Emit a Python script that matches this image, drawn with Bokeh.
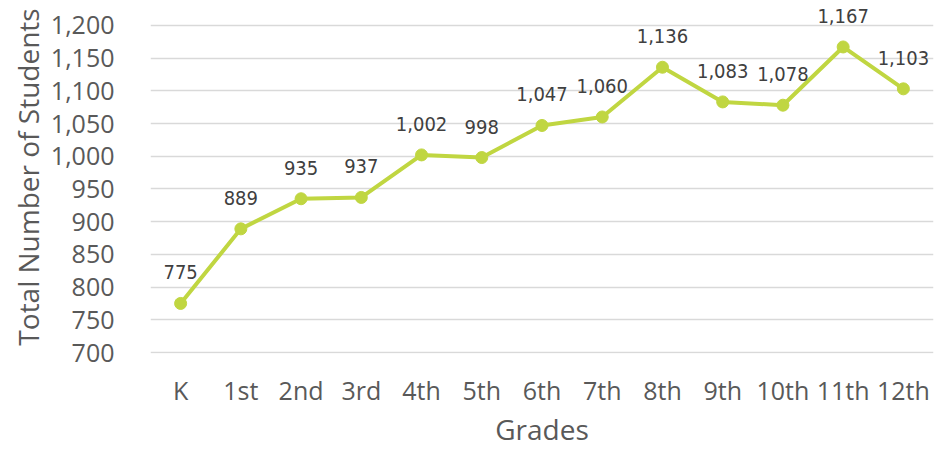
from bokeh.plotting import figure
from bokeh.models import FixedTicker, NumeralTickFormatter, Range1d, FactorRange, ColumnDataSource
from bokeh.core.properties import value
from bokeh.embed import file_html
from bokeh.resources import INLINE

grades = ["K", "1st", "2nd", "3rd", "4th", "5th", "6th", "7th", "8th", "9th", "10th", "11th", "12th"]
students = [775, 889, 935, 937, 1002, 998, 1047, 1060, 1136, 1083, 1078, 1167, 1103]
labels = [f"{v:,}" for v in students]
y_ticks = list(range(700, 1201, 50))
x_title = "Grades"
y_title = "Total Number of Students"

src = ColumnDataSource(dict(g=grades, v=students, t=labels))

GREEN = "#c0d641"
TXT = "#595959"

p = figure(x_range=FactorRange(*grades, range_padding=0), y_range=Range1d(698.5, 1238),
           width=945, height=450, output_backend="svg", toolbar_location=None,
           min_border_left=150, min_border_right=12, min_border_top=0, min_border_bottom=96)
p.outline_line_color = None
p.xgrid.grid_line_color = None
p.ygrid.grid_line_color = "#d9d9d9"
p.ygrid.grid_line_width = 1.5

p.line("g", "v", source=src, line_color=GREEN, line_width=4)
p.scatter("g", "v", source=src, size=12, fill_color=GREEN, line_color=GREEN)
p.text("g", "v", text="t", source=src, text_align="center", text_baseline="alphabetic",
       y_offset=-31, text_font=value("'Liberation Sans Narrow', 'DejaVu Sans Condensed', Roboto"),
       text_font_size="20px", text_color="#404040")

for ax in (p.xaxis[0], p.yaxis[0]):
    ax.axis_line_color = None
    ax.major_tick_line_color = None
    ax.minor_tick_line_color = None
    ax.major_label_text_font = "Open Sans"
    ax.major_label_text_font_size = "25px"
    ax.major_label_text_color = TXT
    ax.axis_label_text_font = "Open Sans"
    ax.axis_label_text_font_size = "28px"
    ax.axis_label_text_font_style = "normal"
    ax.axis_label_text_color = TXT

p.yaxis.ticker = FixedTicker(ticks=y_ticks)
p.yaxis.formatter = NumeralTickFormatter(format="0,0")
p.yaxis.major_label_standoff = 30
p.yaxis.axis_label = y_title
p.yaxis.axis_label_standoff = 1
p.xaxis.major_label_standoff = 13
p.xaxis.axis_label = x_title
p.xaxis.axis_label_standoff = 0

open("out.html", "w").write(file_html(p, INLINE))
